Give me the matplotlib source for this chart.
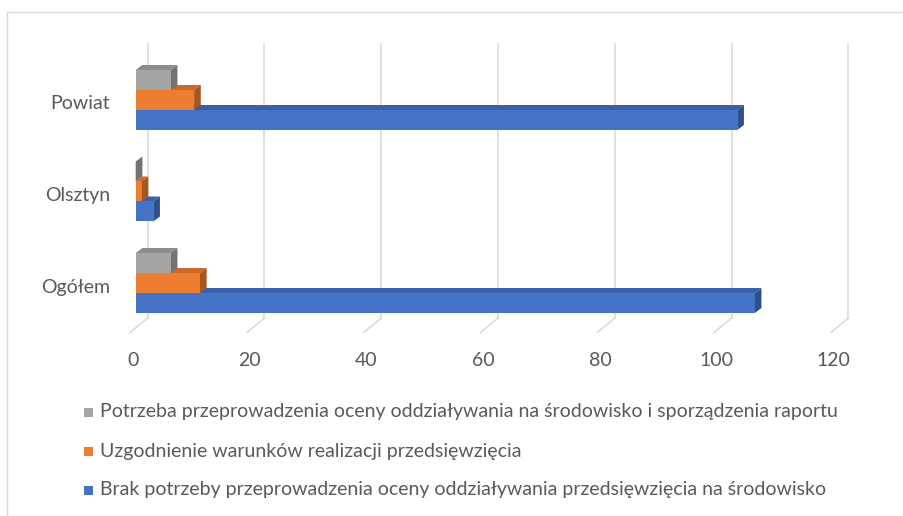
import matplotlib
matplotlib.use("Agg")
import matplotlib.pyplot as plt
from matplotlib.patches import Polygon, Rectangle
from matplotlib.transforms import ScaledTranslation, blended_transform_factory
from matplotlib.lines import Line2D

# ---------------- data ----------------
categories = ["Ogółem", "Olsztyn", "Powiat"]
series_labels = [
    "Brak potrzeby przeprowadzenia oceny oddziaływania przedsięwzięcia na środowisko",
    "Uzgodnienie warunków realizacji przedsięwzięcia",
    "Potrzeba przeprowadzenia oceny oddziaływania na środowisko i sporządzenia raportu",
]
brak_potrzeby = [106, 3, 103]
uzgodnienie = [11, 1, 10]
potrzeba_oceny = [6, 0, 6]
x_ticks = [0, 20, 40, 60, 80, 100, 120]

# ---------------- style ----------------
front_colors = ["#4472C4", "#ED7D31", "#A5A5A5"]
top_colors = ["#3A60A8", "#C9692A", "#8C8C8C"]
side_colors = ["#2F4F8A", "#A9561E", "#737373"]
text_color = "#595959"
grid_color = "#D9D9D9"

W, H, DPI = 904, 516, 100
plt.rcParams["font.family"] = ["Lato", "DejaVu Sans"]

fig = plt.figure(figsize=(W / DPI, H / DPI), dpi=DPI)
fig.patch.set_facecolor("white")

# fit font size so the longest legend entry has the reference width
probe = fig.text(0, 0, series_labels[2], fontsize=14)
renderer = fig.canvas.get_renderer()
fs = 14 * 738 / probe.get_window_extent(renderer).width
probe.remove()


def off(dx, dy):
    """pixel offset (dy positive = downwards)"""
    return ScaledTranslation(dx / DPI, -dy / DPI, fig.dpi_scale_trans)


# plot area in pixels (bar plane)
left, right, top, bottom = 135.7, 836.5, 44, 318
ax = fig.add_axes([left / W, 1 - bottom / H, (right - left) / W, (bottom - top) / H])
ax.set_xlim(0, 120)
ax.set_ylim(-0.3825, 2.612)
ax.axis("off")

px_x = (right - left) / 120
px_y = (bottom - top) / (2.612 + 0.3825)
bar_h = 20 / px_y
ddx = 6.7 / px_x
ddy = 5 / px_y

blend = blended_transform_factory(ax.transData, ax.transAxes)

# gridlines on back wall + floor tick diagonals
for v in x_ticks:
    ax.plot([v, v], [0, 1], transform=blend + off(12, 0), color=grid_color,
            lw=1.1, clip_on=False, zorder=0)
    ax.plot([v, v - 17.7 / px_x], [0, -14.5 / (bottom - top)],
            transform=blend + off(12, 0), color=grid_color, lw=1.1,
            clip_on=False, zorder=0)
    ax.text(v, 0, str(v), transform=blend + off(-3, 42), ha="center",
            va="center", fontsize=fs, color=text_color)

# bars (3D look)
series = [brak_potrzeby, uzgodnienie, potrzeba_oceny]
shifts = [-bar_h, 0, bar_h]
for i, vals in enumerate(series):
    ys = [p + shifts[i] for p in range(len(categories))]
    z = 2 + 2 * i
    for y, v in zip(ys, vals):
        yt = y + bar_h / 2
        yb = y - bar_h / 2
        ax.add_patch(Polygon([(0, yt), (v, yt), (v + ddx, yt + ddy), (ddx, yt + ddy)],
                             closed=True, facecolor=top_colors[i], edgecolor="none",
                             zorder=z, clip_on=False))
        ax.add_patch(Polygon([(v, yb), (v, yt), (v + ddx, yt + ddy), (v + ddx, yb + ddy)],
                             closed=True, facecolor=side_colors[i], edgecolor="none",
                             zorder=z, clip_on=False))
    ax.barh(ys, vals, height=bar_h, color=front_colors[i], linewidth=0,
            zorder=z + 1, clip_on=False)

# category labels
for p, name in enumerate(categories):
    ax.text(0, p, name, transform=ax.transData + off(-25.7, 4), ha="right",
            va="center", fontsize=fs, color=text_color)

# legend (reversed order, as in the reference)
rows_y = [490, 451, 412]
for i in range(3):
    yc = rows_y[i]
    fig.add_artist(Rectangle((84 / W, 1 - (yc + 4.5) / H), 9 / W, 9 / H,
                             transform=fig.transFigure, facecolor=front_colors[i],
                             edgecolor="none"))
    fig.text(100 / W, 1 - yc / H, series_labels[i], ha="left", va="center",
             fontsize=fs, color=text_color)

# chart border
fig.add_artist(Line2D([7 / W, 7 / W], [-0.1, 1 - 12 / H], transform=fig.transFigure,
                      color=grid_color, lw=1.0))
fig.add_artist(Line2D([7 / W, 1.1], [1 - 12 / H, 1 - 12 / H], transform=fig.transFigure,
                      color=grid_color, lw=1.0))

fig.savefig("out.png", dpi=DPI, facecolor="white")
